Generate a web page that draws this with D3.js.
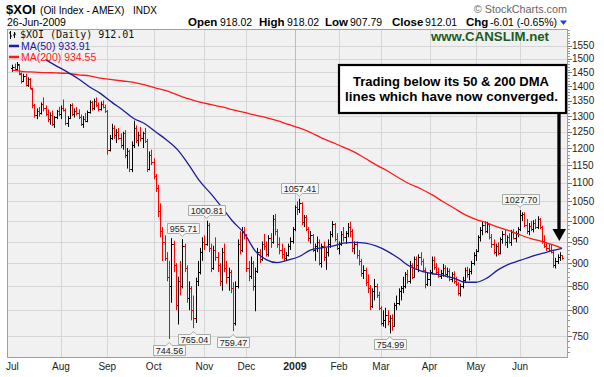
<!DOCTYPE html>
<html><head><meta charset="utf-8">
<script src="https://cdn.jsdelivr.net/npm/d3@7"></script>
<style>body{margin:0;background:#fff;} svg{display:block;}</style>
</head><body><svg id="c" width="604" height="377"></svg>
<script>
// ---- DATA ----
// daily bars [open, high, low, close], index 0 = 1-Jul-2008 ... 249 = 26-Jun-2009
const bars = [
// Jul 2008
[1465,1478,1452,1470],[1470,1482,1458,1462],[1462,1488,1455,1480],[1478,1480,1440,1448],[1445,1450,1410,1418],
[1420,1445,1415,1438],[1438,1445,1400,1405],[1405,1432,1398,1425],[1425,1430,1390,1395],[1392,1395,1325,1335],
[1335,1340,1295,1305],[1305,1325,1290,1318],[1318,1330,1298,1310],[1310,1345,1305,1340],[1340,1362,1315,1325],
[1325,1335,1300,1308],[1308,1322,1280,1290],[1290,1312,1272,1305],[1305,1318,1268,1275],[1275,1300,1262,1296],
[1296,1320,1290,1315],[1315,1330,1300,1308],
// Aug
[1308,1335,1290,1328],[1328,1355,1315,1320],[1320,1325,1270,1278],[1278,1300,1265,1295],[1295,1340,1290,1335],
[1335,1342,1300,1308],[1308,1325,1295,1318],[1318,1330,1302,1310],[1310,1322,1290,1298],[1298,1305,1268,1275],
[1275,1300,1262,1292],[1292,1310,1280,1285],[1285,1318,1280,1312],[1312,1352,1308,1345],[1345,1350,1318,1325],
[1325,1358,1320,1350],[1350,1362,1330,1338],[1338,1345,1315,1322],[1322,1348,1318,1340],[1340,1352,1325,1330],
[1330,1338,1310,1315],
// Sep
[1315,1320,1180,1195],[1195,1240,1190,1230],[1230,1275,1225,1262],[1262,1270,1228,1240],[1240,1258,1215,1250],
[1250,1262,1225,1232],[1232,1245,1200,1210],[1210,1250,1195,1245],[1245,1255,1170,1180],[1180,1200,1140,1190],
[1190,1195,1130,1140],[1140,1220,1130,1210],[1210,1285,1200,1262],[1262,1270,1215,1225],[1225,1250,1205,1240],
[1240,1265,1220,1232],[1232,1250,1200,1245],[1245,1262,1215,1222],[1222,1228,1130,1140],[1140,1190,1135,1180],
[1180,1195,1150,1160],
// Oct
[1160,1170,1110,1120],[1120,1125,1075,1085],[1085,1095,1010,1025],[1025,1045,960,975],[975,985,905,950],
[950,965,905,912],[912,925,860,870],[870,905,744.56,850],[850,958,815,945],[945,952,880,895],
[895,900,800,810],[810,870,772,860],[860,905,830,850],[850,955.71,845,940],[940,945,880,890],
[890,895,815,825],[825,860,800,845],[845,850,780,800],[800,830,765.04,785],[785,868,775,860],
[860,905,850,880],[880,935,875,925],[925,960,905,950],
// Nov
[950,965,930,945],[945,1000.81,940,990],[990,995,925,935],[935,945,880,890],[890,940,885,930],
[930,960,905,915],[915,925,880,895],[895,900,850,860],[860,935,840,925],[925,945,880,890],
[890,905,855,870],[870,890,840,880],[880,885,835,845],[845,858,759.47,775],[775,860,770,850],
[850,955,845,945],[945,975,920,930],[930,985,925,975],[975,985,955,965],
// Dec
[965,968,880,890],[890,905,860,872],[872,915,865,900],[900,905,840,850],[850,890,798,882],
[882,935,878,925],[925,932,900,910],[910,950,905,945],[945,968,930,940],[940,950,915,920],
[920,965,915,958],[958,970,935,950],[950,1015,945,1005],[1005,1018,965,975],[975,980,935,945],
[945,960,920,930],[930,945,910,920],[920,935,905,912],[912,925,905,918],[918,945,915,940],
[940,960,930,952],[952,985,945,980],
// Jan 2009
[980,1040,975,1035],[1035,1050,1015,1030],[1030,1057.41,1020,1045],[1045,1048,990,998],[998,1015,985,1010],
[1010,1015,975,980],[980,985,950,958],[958,975,945,965],[965,968,925,930],[930,945,905,940],
[940,962,925,950],[950,955,895,900],[900,945,890,940],[940,950,905,915],[915,935,885,925],
[925,955,915,945],[945,975,935,968],[968,1000,960,992],[992,995,950,955],[955,970,930,935],
// Feb
[935,950,920,945],[945,975,940,968],[968,985,950,960],[960,975,945,970],[970,995,960,985],
[985,998,960,975],[975,980,925,935],[935,950,920,945],[945,950,910,918],[918,930,895,905],
[905,910,870,878],[878,895,865,885],[885,890,850,858],[858,875,835,845],[845,852,800,808],
[808,845,805,840],[840,865,820,850],[850,855,825,832],[832,838,800,805],
// Mar
[805,808,770,775],[775,800,768,780],[780,805,765,790],[790,800,770,778],[778,790,754.99,785],
[785,792,760,770],[770,815,768,810],[810,830,800,815],[815,845,810,840],[840,850,820,845],
[845,870,835,850],[850,880,845,875],[875,885,855,860],[860,905,855,895],[895,900,865,870],
[870,915,868,910],[910,915,885,895],[895,920,880,915],[915,925,895,905],[905,910,880,885],
[885,890,845,855],[855,880,850,865],
// Apr
[865,885,850,880],[880,915,875,908],[908,915,885,892],[892,900,875,880],[880,890,868,872],
[872,885,865,878],[878,898,870,890],[890,895,870,875],[875,890,868,882],[882,888,860,866],
[866,880,858,875],[875,882,855,860],[860,870,850,855],[855,858,830,835],[835,855,828,850],
[850,870,845,862],[862,890,858,885],[885,892,868,875],[875,888,862,882],[882,905,875,900],
[900,925,895,918],
// May
[918,932,905,928],[928,965,925,960],[960,985,950,978],[978,998,965,990],[990,1000,970,975],
[975,998,970,992],[992,995,955,960],[960,968,935,945],[945,955,920,925],[925,945,915,940],
[940,948,918,922],[922,960,920,955],[955,975,945,968],[968,978,940,948],[948,965,935,960],
[960,970,945,950],[950,978,940,972],[972,980,955,958],[958,975,948,970],[970,985,960,980],
// Jun
[980,1027.70,975,1015],[1015,1022,1000,1018],[1018,1022,985,990],[990,1005,968,975],[975,995,965,988],
[988,1000,975,980],[980,1002,972,995],[995,1005,980,985],[985,1012,980,1005],[1005,1008,980,985],
[985,988,945,952],[952,965,935,940],[940,948,928,935],[935,945,925,930],[930,942,922,925],
[925,930,890,895],[895,912,888,905],[905,920,898,915],[915,925,905,918.02],[918.02,918.02,907.79,912.01]
];

// moving averages read at sample bar indices
const ma200Idx = [0,5,10,15,20,25,30,35,40,45,50,55,60,65,70,75,80,85,90,95,100,105,110,115,120,125,130,135,140,145,150,155,160,165,170,175,180,185,190,195,200,205,210,215,220,225,230,235,240,245,249];
const ma200Vals = [1458,1453,1451,1449,1448,1446,1441,1437,1429,1424,1419,1414,1405,1394,1384,1370,1357,1346,1338,1330,1320,1312,1303,1295,1285,1273,1262,1248,1231,1217,1203,1188,1169,1150,1133,1114,1097,1084,1068,1050,1033,1016,1004,995,985,976,966,957,950,942,934.55];
const ma50Idx = [15,20,25,30,35,40,45,50,55,60,65,70,75,80,85,90,95,100,105,110,115,120,125,130,135,140,145,150,155,160,165,170,175,180,185,190,195,200,205,210,215,220,225,230,235,240,245,249];
const ma50Vals = [1497,1473,1451,1426,1398,1375,1346,1320,1292,1275,1249,1224,1194,1150,1104,1070,1034,998,970,928,908,901,907,915,930,935,939,946,948,946,939,927,911,893,883,877,873,867,858,858,867,885,898,906,915,922,929,933.91];

const monthLabels = ["Jul","Aug","Sep","Oct","Nov","Dec","2009","Feb","Mar","Apr","May","Jun"];
const monthStartIdx = [0,22,43,64,87,106,128,148,167,189,210,230];
const yTickVals = [750,800,850,900,950,1000,1050,1100,1150,1200,1250,1300,1350,1400,1450,1500,1550];
const highLabelIdx = [77,88,130,230];
const lowLabelIdx = [71,82,100,171];

// ---- CHART ----
const svg = d3.select("#c");
const P = {l:7, r:568, t:29, b:358};
const x = d3.scaleLinear().domain([-2.45, 251.75]).range([P.l, P.r]);
const y = d3.scaleLog().domain([710, 1616]).range([P.b, P.t]);
const SANS = "'Liberation Sans', Arial, sans-serif";

svg.append("rect").attr("width",604).attr("height",377).attr("fill","#fff");
svg.append("rect").attr("x",P.l).attr("y",P.t).attr("width",P.r-P.l).attr("height",P.b-P.t).attr("fill","#f1f1f1");

svg.append("defs").append("clipPath").attr("id","clip").append("rect")
  .attr("x",P.l).attr("y",P.t).attr("width",P.r-P.l).attr("height",P.b-P.t);

// grid
const grid = svg.append("g").attr("stroke","#d6d6d6").attr("stroke-width",1);
yTickVals.forEach(v=>{
  const yy = Math.round(y(v))+0.5;
  grid.append("line").attr("x1",P.l).attr("x2",P.r).attr("y1",yy).attr("y2",yy);
});
monthStartIdx.forEach((m,k)=>{
  if(k===0) return;
  const xx = Math.round(x(m))+0.5;
  grid.append("line").attr("x1",xx).attr("x2",xx).attr("y1",P.t).attr("y2",P.b)
    .attr("stroke", k===6 ? "#bdbdbd" : "#d6d6d6");
});

// bars
const gB = svg.append("g").attr("clip-path","url(#clip)").attr("stroke-width",1);
bars.forEach((d,i)=>{
  const prev = i>0 ? bars[i-1][3] : d[0];
  const col = d[3] < prev ? "#ff0000" : "#000000";
  const xx = Math.round(x(i))+0.5;
  gB.append("line").attr("x1",xx).attr("x2",xx).attr("y1",y(d[1])).attr("y2",y(d[2])).attr("stroke",col);
  const yo = Math.round(y(d[0]))+0.5, yc = Math.round(y(d[3]))+0.5;
  gB.append("line").attr("x1",xx-1.5).attr("x2",xx).attr("y1",yo).attr("y2",yo).attr("stroke",col);
  gB.append("line").attr("x1",xx).attr("x2",xx+1.5).attr("y1",yc).attr("y2",yc).attr("stroke",col);
});

// moving averages
const line = d3.line().x(d=>x(d[0])).y(d=>y(d[1])).curve(d3.curveMonotoneX);
const gM = svg.append("g").attr("clip-path","url(#clip)").attr("fill","none");
gM.append("path").attr("d", line(ma200Idx.map((ix,k)=>[ix, ma200Vals[k]]))).attr("stroke","#ff1a1a").attr("stroke-width",1.3);
gM.append("path").attr("d", line(ma50Idx.map((ix,k)=>[ix, ma50Vals[k]]))).attr("stroke","#1c1c9c").attr("stroke-width",1.3);

// frame
svg.append("rect").attr("x",P.l+0.5).attr("y",P.t+0.5).attr("width",P.r-P.l-1).attr("height",P.b-P.t-1)
  .attr("fill","none").attr("stroke","#a0a0a0");

// right axis ticks + labels
const gA = svg.append("g");
d3.range(720, 1611, 10).forEach(v=>{
  const yy = Math.round(y(v))+0.5;
  gA.append("line").attr("x1",P.r).attr("x2",P.r+2).attr("y1",yy).attr("y2",yy).attr("stroke","#999");
});
yTickVals.forEach(v=>{
  const yy = Math.round(y(v))+0.5;
  gA.append("line").attr("x1",P.r).attr("x2",P.r+4).attr("y1",yy).attr("y2",yy).attr("stroke","#777");
  gA.append("text").attr("x",572).attr("y",y(v)).attr("dy","0.35em").attr("font-family",SANS)
    .attr("font-size","10px").attr("fill","#222").text(v);
});

// month labels
monthLabels.forEach((lab,k)=>{
  svg.append("text").attr("x",x(monthStartIdx[k])).attr("y",369.5).attr("text-anchor","middle")
    .attr("font-family",SANS).attr("font-size", k===6?"10.5px":"10px").attr("font-weight",k===6?"bold":"normal")
    .attr("fill","#222").text(lab);
});

// price labels
function priceLabel(i, isHigh){
  const v = isHigh ? bars[i][1] : bars[i][2];
  const cx = x(i);
  const yv = y(v);
  const g = svg.append("g");
  const t = g.append("text").attr("font-family",SANS).attr("font-size","9px").attr("fill","#222")
    .attr("text-anchor","middle").text(v.toFixed(2));
  const w = t.node().getComputedTextLength()+4, h = 10;
  const l = Math.round(cx - w/2)+0.5, r = l + Math.round(w);
  let top, bot, path;
  if(isHigh){
    bot = Math.round(yv - 6)+0.5; top = bot - h;
    path = `M${l},${top}H${r}V${bot}H${cx+3}L${cx},${bot+3}L${cx-3},${bot}H${l}Z`;
  } else {
    top = Math.round(yv + 6)+0.5; bot = top + h;
    path = `M${l},${top}H${cx-3}L${cx},${top-3}L${cx+3},${top}H${r}V${bot}H${l}Z`;
  }
  g.insert("path","text").attr("d",path).attr("fill","#f7f7f7").attr("stroke","#a4aca4");
  t.attr("x",(l+r)/2).attr("y",bot-2);
}
highLabelIdx.forEach(i=>priceLabel(i,true));
lowLabelIdx.forEach(i=>priceLabel(i,false));

// legend
const gL = svg.append("g");
gL.append("path").attr("d","M10.5,31V39M9,33H10.5M10.5,36H12M14.5,32V38M13,35H14.5M14.5,34H16").attr("stroke","#000").attr("fill","none");
gL.append("text").attr("x",20).attr("y",38).attr("font-family","'DejaVu Sans Mono', monospace").attr("font-size","10px")
  .attr("fill","#111").text("$XOI (Daily) 912.01");
gL.append("line").attr("x1",9).attr("x2",19).attr("y1",46).attr("y2",46).attr("stroke","#1c1c9c").attr("stroke-width",2.5);
gL.append("text").attr("x",21).attr("y",49.5).attr("font-family",SANS).attr("font-size","10.5px").attr("fill","#1c1c9c").text("MA(50) 933.91");
gL.append("line").attr("x1",9).attr("x2",19).attr("y1",57).attr("y2",57).attr("stroke","#ff1a1a").attr("stroke-width",2.5);
gL.append("text").attr("x",21).attr("y",60.5).attr("font-family",SANS).attr("font-size","10.5px").attr("fill","#ff1a1a").text("MA(200) 934.55");

// header
svg.append("text").attr("x",6).attr("y",14).attr("font-family",SANS).attr("font-size","13px").attr("font-weight","bold").attr("fill","#000").text("$XOI");
svg.append("text").attr("x",40).attr("y",14).attr("font-family",SANS).attr("font-size","10.2px").attr("fill","#000").text("(Oil Index - AMEX)");
svg.append("text").attr("x",133).attr("y",14).attr("font-family",SANS).attr("font-size","10px").attr("fill","#000").text("INDX");
svg.append("text").attr("x",7).attr("y",26).attr("font-family",SANS).attr("font-size","10.5px").attr("fill","#000").text("26-Jun-2009");
svg.append("text").attr("x",567).attr("y",13).attr("text-anchor","end").attr("font-family",SANS).attr("font-size","10.8px").attr("fill","#666").text("\u00A9 StockCharts.com");

const hdr = [["Open",188,true],["918.02",220,false],["High",259,true],["918.02",287,false],["Low",325,true],["907.79",350,false],
  ["Close",392,true],["912.01",425,false],["Chg",466,true],["-6.01 (-0.65%)",490,false]];
hdr.forEach(h=>{
  svg.append("text").attr("x",h[1]).attr("y",26).attr("font-family",SANS)
    .attr("font-size",h[2]?"11.5px":"10.5px").attr("font-weight",h[2]?"bold":"normal").attr("fill","#000").text(h[0]);
});
svg.append("path").attr("d","M560,20.5H567L563.5,25Z").attr("fill","#2040e0");

// watermark
svg.append("text").attr("x",431).attr("y",40.5).attr("font-family",SANS).attr("font-size","13.5px").attr("font-weight","bold")
  .attr("fill","#1d5c1d").attr("textLength",118).attr("lengthAdjust","spacingAndGlyphs").text("www.CANSLIM.net");

// annotation
svg.append("rect").attr("x",339).attr("y",65).attr("width",227).attr("height",48).attr("fill","#fff").attr("stroke","#000").attr("stroke-width",2.2);
svg.append("text").attr("x",353).attr("y",86).attr("font-family",SANS).attr("font-size","12.5px").attr("font-weight","bold")
  .attr("fill","#000").attr("textLength",196).attr("lengthAdjust","spacingAndGlyphs").text("Trading below its 50 & 200 DMA");
svg.append("text").attr("x",345).attr("y",100.5).attr("font-family",SANS).attr("font-size","12.5px").attr("font-weight","bold")
  .attr("fill","#000").attr("textLength",213).attr("lengthAdjust","spacingAndGlyphs").text("lines which have now converged.");
svg.append("line").attr("x1",559).attr("x2",559).attr("y1",114).attr("y2",231).attr("stroke","#000").attr("stroke-width",3.3);
svg.append("path").attr("d","M552.5,229H566L559.3,241Z").attr("fill","#000");
</script></body></html>
